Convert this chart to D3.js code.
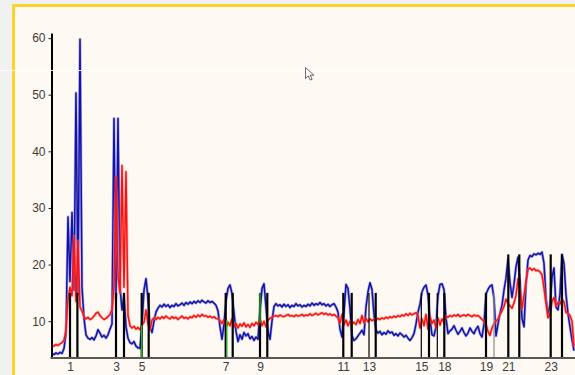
<!DOCTYPE html>
<html>
<head>
<meta charset="utf-8">
<script src="https://cdn.jsdelivr.net/npm/d3@7"></script>
<style>
  html, body { margin: 0; padding: 0; background: #f1f1f1; overflow: hidden; }
  svg { display: block; }
  text { font-family: "Liberation Sans", Arial, sans-serif; }
</style>
</head>
<body>
<svg id="chart" width="575" height="375"></svg>
<script>
// Recording samples, one per time step
const blueValues = [
  4.3, 4.1, 4.4, 4.2, 4.5, 4.3, 5.2, 7.8, 28.4, 17.0,
  29.2, 15.5, 50.3, 14.8, 59.8, 16.0, 10.5, 7.6, 7.0, 6.8,
  7.1, 6.7, 7.4, 8.5, 7.9, 7.2, 7.5, 7.0, 7.6, 8.6,
  9.5, 45.8, 14.0, 45.8, 16.0, 12.0, 14.5, 9.0, 7.0, 6.2,
  6.0, 6.4, 5.6, 5.3, 5.2, 9.5, 15.5, 17.5, 14.0, 9.0,
  8.0, 10.0, 11.6, 12.3, 12.8, 12.5, 13.0, 12.6, 12.9, 12.4,
  12.8, 12.6, 13.1, 12.7, 12.9, 13.2, 12.8, 13.3, 13.0, 13.4,
  13.1, 13.5, 13.2, 13.6, 13.3, 13.7, 13.4, 13.2, 13.6, 13.3,
  13.5, 13.2, 12.8, 11.8, 9.0, 6.8, 9.5, 13.6, 15.8, 16.4,
  14.9, 11.5, 8.2, 6.4, 7.6, 6.8, 8.0, 7.4, 7.8, 6.9,
  7.3, 6.6, 7.2, 6.8, 12.0, 15.8, 16.6, 12.5, 8.2, 6.8,
  10.0, 12.6, 13.1, 12.7, 12.9, 12.5, 13.0, 12.6, 12.9, 12.4,
  12.8, 12.6, 13.1, 12.7, 12.9, 12.5, 12.8, 12.6, 13.0, 12.7,
  13.2, 12.8, 13.1, 12.9, 13.3, 12.9, 13.1, 12.7, 13.0, 12.6,
  12.9, 13.1, 12.5, 11.6, 8.6, 7.2, 11.5, 16.5, 15.8, 12.2,
  7.4, 6.6, 6.9, 7.4, 7.9, 8.4, 7.6, 12.5, 15.2, 16.8,
  15.6, 11.2, 8.4, 7.9, 8.2, 7.6, 8.0, 7.7, 8.3, 7.9,
  8.1, 7.5, 7.8, 7.4, 7.9, 7.6, 7.2, 7.5, 7.0, 6.6,
  7.1, 7.8, 9.5, 11.6, 13.0, 15.2, 16.0, 16.4, 14.6, 10.4,
  7.6, 7.4, 9.0, 14.5, 16.5, 16.6, 15.6, 10.5, 7.8, 8.3,
  8.6, 9.2, 8.4, 7.7, 8.2, 8.8, 8.0, 7.4, 7.9, 8.8,
  8.2, 7.8, 8.6, 9.1, 7.8, 7.2, 9.5, 14.8, 15.6, 16.2,
  16.4, 14.0, 7.4, 9.5, 11.4, 12.8, 15.5, 17.6, 21.0, 16.8,
  14.2, 16.5, 19.6, 21.3, 17.0, 10.5, 9.0, 16.5, 20.8, 21.6,
  21.4, 21.9, 21.7, 22.0, 21.8, 22.2, 20.2, 14.0, 11.3, 12.8,
  17.7, 19.4, 12.5, 12.0, 14.8, 21.8, 20.2, 14.7, 11.3, 9.0,
  6.7, 4.8
];

const redValues = [
  5.8, 5.6, 5.9, 5.7, 6.0, 6.2, 6.6, 8.5, 14.0, 16.0,
  14.5, 25.0, 13.5, 24.2, 12.5, 11.8, 10.8, 10.4, 10.7, 10.3,
  10.5, 10.9, 11.4, 11.6, 11.0, 10.6, 10.3, 10.5, 10.8, 11.2,
  12.0, 16.0, 35.5, 18.0, 15.0, 37.5, 16.0, 36.4, 11.0, 9.2,
  8.8, 9.1, 8.6, 8.9, 8.5, 9.4, 9.8, 12.0, 9.6, 8.5,
  10.2, 10.6, 10.3, 10.7, 10.4, 10.8, 10.5, 10.9, 10.6, 10.4,
  10.8, 10.5, 10.7, 10.3, 10.6, 10.9, 10.5, 10.7, 10.4, 10.8,
  10.6, 11.0, 10.7, 11.1, 10.8, 11.2, 10.9, 11.0, 10.7, 10.9,
  10.6, 10.8, 10.5, 10.4, 10.1, 9.6, 10.3, 8.9, 9.8, 9.2,
  10.4, 9.0, 9.6, 8.8, 9.5, 9.1, 9.7, 9.0, 9.4, 8.9,
  9.6, 9.2, 9.8, 9.4, 10.4, 9.2, 10.0, 9.0, 10.2, 10.5,
  10.7, 10.9, 11.0, 10.8, 11.1, 10.9, 10.8, 11.0, 11.2, 10.9,
  11.0, 10.8, 11.1, 10.9, 11.0, 11.2, 10.9, 11.1, 11.0, 11.3,
  11.0, 11.2, 11.4, 11.1, 11.3, 11.5, 11.2, 11.4, 11.1, 11.3,
  11.0, 11.2, 10.9, 10.6, 9.6, 11.2, 9.4, 10.2, 9.2, 10.0,
  9.5, 9.8, 9.4, 10.3, 9.6, 11.0, 9.7, 10.5, 9.9, 10.4,
  10.1, 10.3, 10.2, 10.5, 10.3, 10.6, 10.4, 10.7, 10.5, 10.8,
  10.6, 10.9, 10.7, 11.0, 10.8, 11.1, 10.9, 11.3, 11.0, 11.4,
  11.1, 11.3, 11.5, 11.0, 8.8, 10.4, 9.2, 11.2, 8.6, 10.8,
  9.6, 10.2, 8.9, 10.6, 9.3, 10.4, 9.8, 10.9, 10.7, 11.0,
  10.8, 11.1, 10.9, 11.2, 10.8, 11.0, 11.1, 10.9, 11.2, 11.0,
  10.8, 11.1, 10.9, 11.0, 10.7, 10.3, 10.0, 9.4, 8.2, 7.5,
  8.8, 9.6, 10.0, 10.4, 11.2, 11.8, 12.6, 13.9, 13.2, 12.7,
  12.3, 13.2, 14.6, 17.5, 15.3, 12.2, 14.5, 17.0, 19.2, 19.4,
  19.0, 19.3, 18.9, 19.0, 18.7, 18.2, 15.8, 13.2, 10.6, 11.1,
  13.5, 14.2, 12.7, 13.3, 13.0, 13.9, 13.4, 11.5, 11.4, 11.0,
  10.0, 5.5
];

// Event markers: time, marker height (value units), kind
const markerTimes = [9, 12.7, 32, 36, 44.85, 48.35, 86.85, 90.35, 104, 107.65,
                     145.65, 149.85, 158.5, 161.85, 184.65, 188.5, 192.65, 196.15,
                     217, 221, 228.15, 233.65, 249.35, 255];
const markerTops = [15, 15, 15, 15, 15, 15, 15, 15, 15, 15,
                    15, 15, 15, 15, 15, 15, 15, 15,
                    15, 15, 21.8, 21.8, 21.8, 21.8];
const markerKinds = ["main", "main", "main", "main", "main", "main", "main", "main", "main", "main",
                     "main", "main", "minor", "main", "minor", "main", "minor", "main",
                     "main", "faint", "main", "main", "main", "main"];

// Secondary (green) event spans: time, low value, high value
const greenTimes = [44.85, 87.4, 104];
const greenLows = [3.5, 3.5, 9.6];
const greenHighs = [9.3, 10.2, 15];

// Axis ticks
const xTickTimes = [9, 32, 44.85, 86.85, 104, 145.65, 158.5, 184.65, 196.15, 217, 228.15, 249.35];
const xTickLabels = ["1", "3", "5", "7", "9", "11", "13", "15", "18", "19", "21", "23"];
const yTickValues = [10, 20, 30, 40, 50, 60];

const svg = d3.select("#chart");

// Panel background with yellow frame edges
svg.append("rect").attr("x", 12).attr("y", 4).attr("width", 563).attr("height", 371).attr("fill", "#fefaf3");
svg.append("rect").attr("x", 12).attr("y", 4).attr("width", 563).attr("height", 3).attr("fill", "#fcd22b");
svg.append("rect").attr("x", 12).attr("y", 4).attr("width", 3).attr("height", 371).attr("fill", "#fcd22b");

const x = d3.scaleLinear().domain([0, blueValues.length - 1]).range([52, 574]);
const y = d3.scaleLinear().domain([3.5, 60.9]).range([358, 33]);

const line = d3.line().x((d, i) => x(i)).y(d => y(d));

// Traces: soft outer stroke plus a solid core
function trace(values, halo, core) {
  svg.append("path").datum(values).attr("d", line)
    .attr("fill", "none").attr("stroke", halo).attr("stroke-width", 2.8)
    .attr("stroke-linejoin", "round").attr("opacity", 0.55);
  svg.append("path").datum(values).attr("d", line)
    .attr("fill", "none").attr("stroke", core).attr("stroke-width", 1.5)
    .attr("stroke-linejoin", "round");
}
trace(blueValues, "#6d6dd2", "#1212aa");
trace(redValues, "#ff7a7a", "#ff1010");

// Event markers
const markerStyle = {
  main: { w: 2.2, c: "#000" },
  minor: { w: 1.2, c: "#000" },
  faint: { w: 1.2, c: "#8a8a8a" }
};
svg.append("g").selectAll("line").data(markerTimes).join("line")
  .attr("x1", d => x(d)).attr("x2", d => x(d))
  .attr("y1", y(3.5)).attr("y2", (d, i) => y(markerTops[i]))
  .attr("stroke", (d, i) => markerStyle[markerKinds[i]].c)
  .attr("stroke-width", (d, i) => markerStyle[markerKinds[i]].w);

svg.append("g").selectAll("line").data(greenTimes).join("line")
  .attr("x1", d => x(d)).attr("x2", d => x(d))
  .attr("y1", (d, i) => y(greenLows[i])).attr("y2", (d, i) => y(greenHighs[i]))
  .attr("stroke", "#22b422").attr("stroke-width", 1.4);

// Axes
const yAxis = svg.append("g").attr("transform", "translate(51.5,0)")
  .call(d3.axisLeft(y).tickValues(yTickValues).tickSize(3).tickPadding(3).tickSizeOuter(0));
yAxis.select(".domain").attr("stroke", "#000").attr("stroke-width", 2);
yAxis.selectAll(".tick line").attr("stroke", "#222");
yAxis.selectAll("text").attr("font-size", 12).attr("fill", "#3a3a3a");

const xAxis = svg.append("g").attr("transform", "translate(0,358)")
  .call(d3.axisBottom(x).tickValues(xTickTimes).tickFormat((d, i) => xTickLabels[i])
    .tickSize(0).tickPadding(4).tickSizeOuter(0));
xAxis.select(".domain").attr("stroke", "#585858").attr("stroke-width", 2)
  .attr("d", "M50.5,0H575");
xAxis.selectAll("text").attr("font-size", 12).attr("fill", "#3a3a3a");

// Thin light scan line across the panel
svg.append("line").attr("x1", 0).attr("x2", 575).attr("y1", 70.5).attr("y2", 70.5)
  .attr("stroke", "#ffffff").attr("stroke-width", 1.2).attr("opacity", 0.9);

// Pointer
svg.append("path")
  .attr("d", "M0,0 L0,11 L2.8,8.4 L4.8,12.6 L6.6,11.8 L4.7,7.7 L8.4,7.7 Z")
  .attr("transform", "translate(305.5,67.5)")
  .attr("fill", "#ffffff").attr("stroke", "#444").attr("stroke-width", 0.8);
</script>
</body>
</html>
